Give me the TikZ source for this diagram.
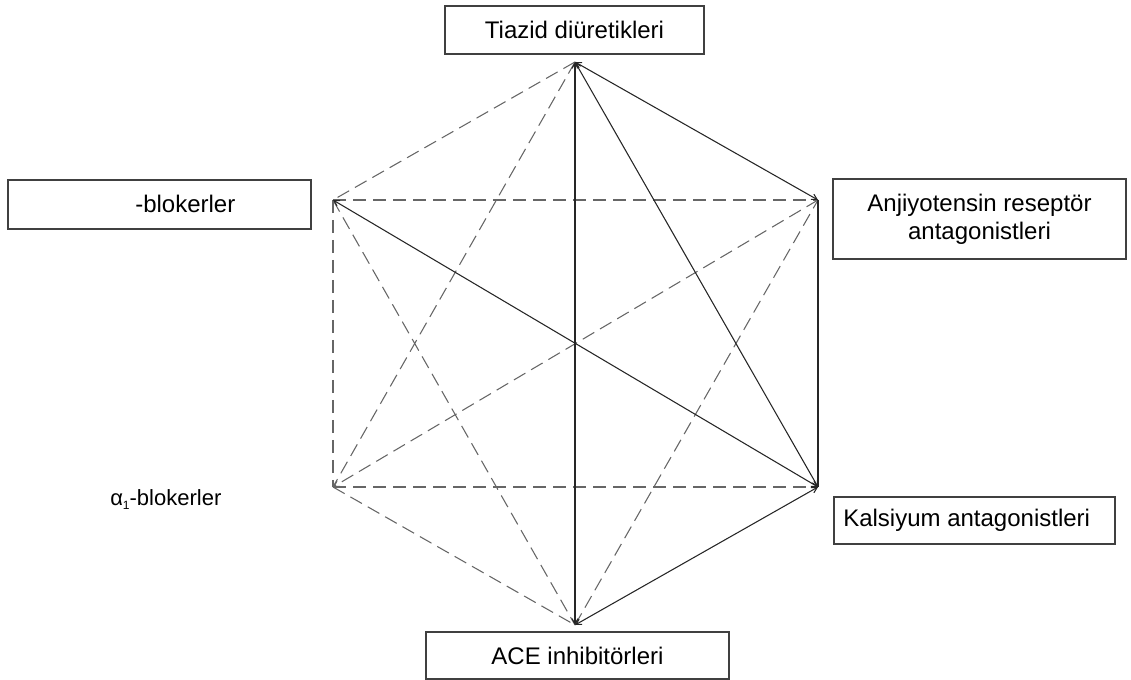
\documentclass[tikz,border=0pt]{standalone}
\usepackage{fontspec}
\setmainfont{Liberation Sans}
\usetikzlibrary{arrows.meta}
\begin{document}
\begin{tikzpicture}[x=0.75pt,y=-0.75pt,
  txt/.style={font=\fontsize{18}{21}\selectfont},
  lbl/.style={txt,draw=black!75,line width=0.9pt,fill=white,inner sep=0pt,align=center},
  tip/.tip={Straight Barb[length=4pt,width=4.5pt]},
  solidline/.style={draw=black!85,line width=0.8pt,tip-tip},
  dashline/.style={draw=black!60,line width=0.8pt,dash pattern=on 10pt off 5pt}]
\useasboundingbox (0,0) rectangle (1131,680);
% vertices
\coordinate (T) at (575,62);
\coordinate (UR) at (818,200);
\coordinate (LR) at (818,487);
\coordinate (B) at (575,625);
\coordinate (LL) at (333,487);
\coordinate (UL) at (333,200);
% labels
\node[lbl,minimum width=259*0.75pt,minimum height=48*0.75pt] (tiazid) at (574.5,30) {Tiazid diüretikleri};
\node[lbl,minimum width=303*0.75pt,minimum height=49*0.75pt] (beta) at (159.5,204.5) {};
\node[txt,anchor=west,inner sep=0pt] (betatxt) at (135,204) {-blokerler};
\node[lbl,minimum width=293*0.75pt,minimum height=80*0.75pt] (arb) at (979.5,219) {Anjiyotensin reseptör\\antagonistleri};
\node[lbl,minimum width=281*0.75pt,minimum height=47*0.75pt] (kal) at (974.5,520.5) {};
\node[txt,anchor=west,inner sep=0pt] (kaltxt) at (843,520) {Kalsiyum antagonistleri};
\node[lbl,minimum width=303*0.75pt,minimum height=47*0.75pt] (ace) at (577.5,655.5) {ACE inhibitörleri};
\node[font=\fontsize{16.5}{20}\selectfont,anchor=west,inner sep=0pt] (alpha) at (110,500) {α\raisebox{-3pt}{\fontsize{9}{9}\selectfont 1}-blokerler};
% dashed lines
\draw[dashline] (T) -- (UL);
\draw[dashline] (T) -- (LL);
\draw[dashline] (UL) -- (UR);
\draw[dashline] (UL) -- (LL);
\draw[dashline] (UL) -- (B);
\draw[dashline,-tip] (UR) -- (LL);
\draw[dashline] (LL) -- (LR);
\draw[dashline] (LL) -- (B);
\draw[dashline] (B) -- (UR);
% solid lines
\draw[solidline] (T) -- (UR);
\draw[solidline] (T) -- (B);
\draw[solidline] (T) -- (LR);
\draw[solidline] (LR) -- (UL);
\draw[solidline] (LR) -- (B);
\draw[draw=black!85,line width=0.8pt] (UR) -- (LR);
\end{tikzpicture}
\end{document}
